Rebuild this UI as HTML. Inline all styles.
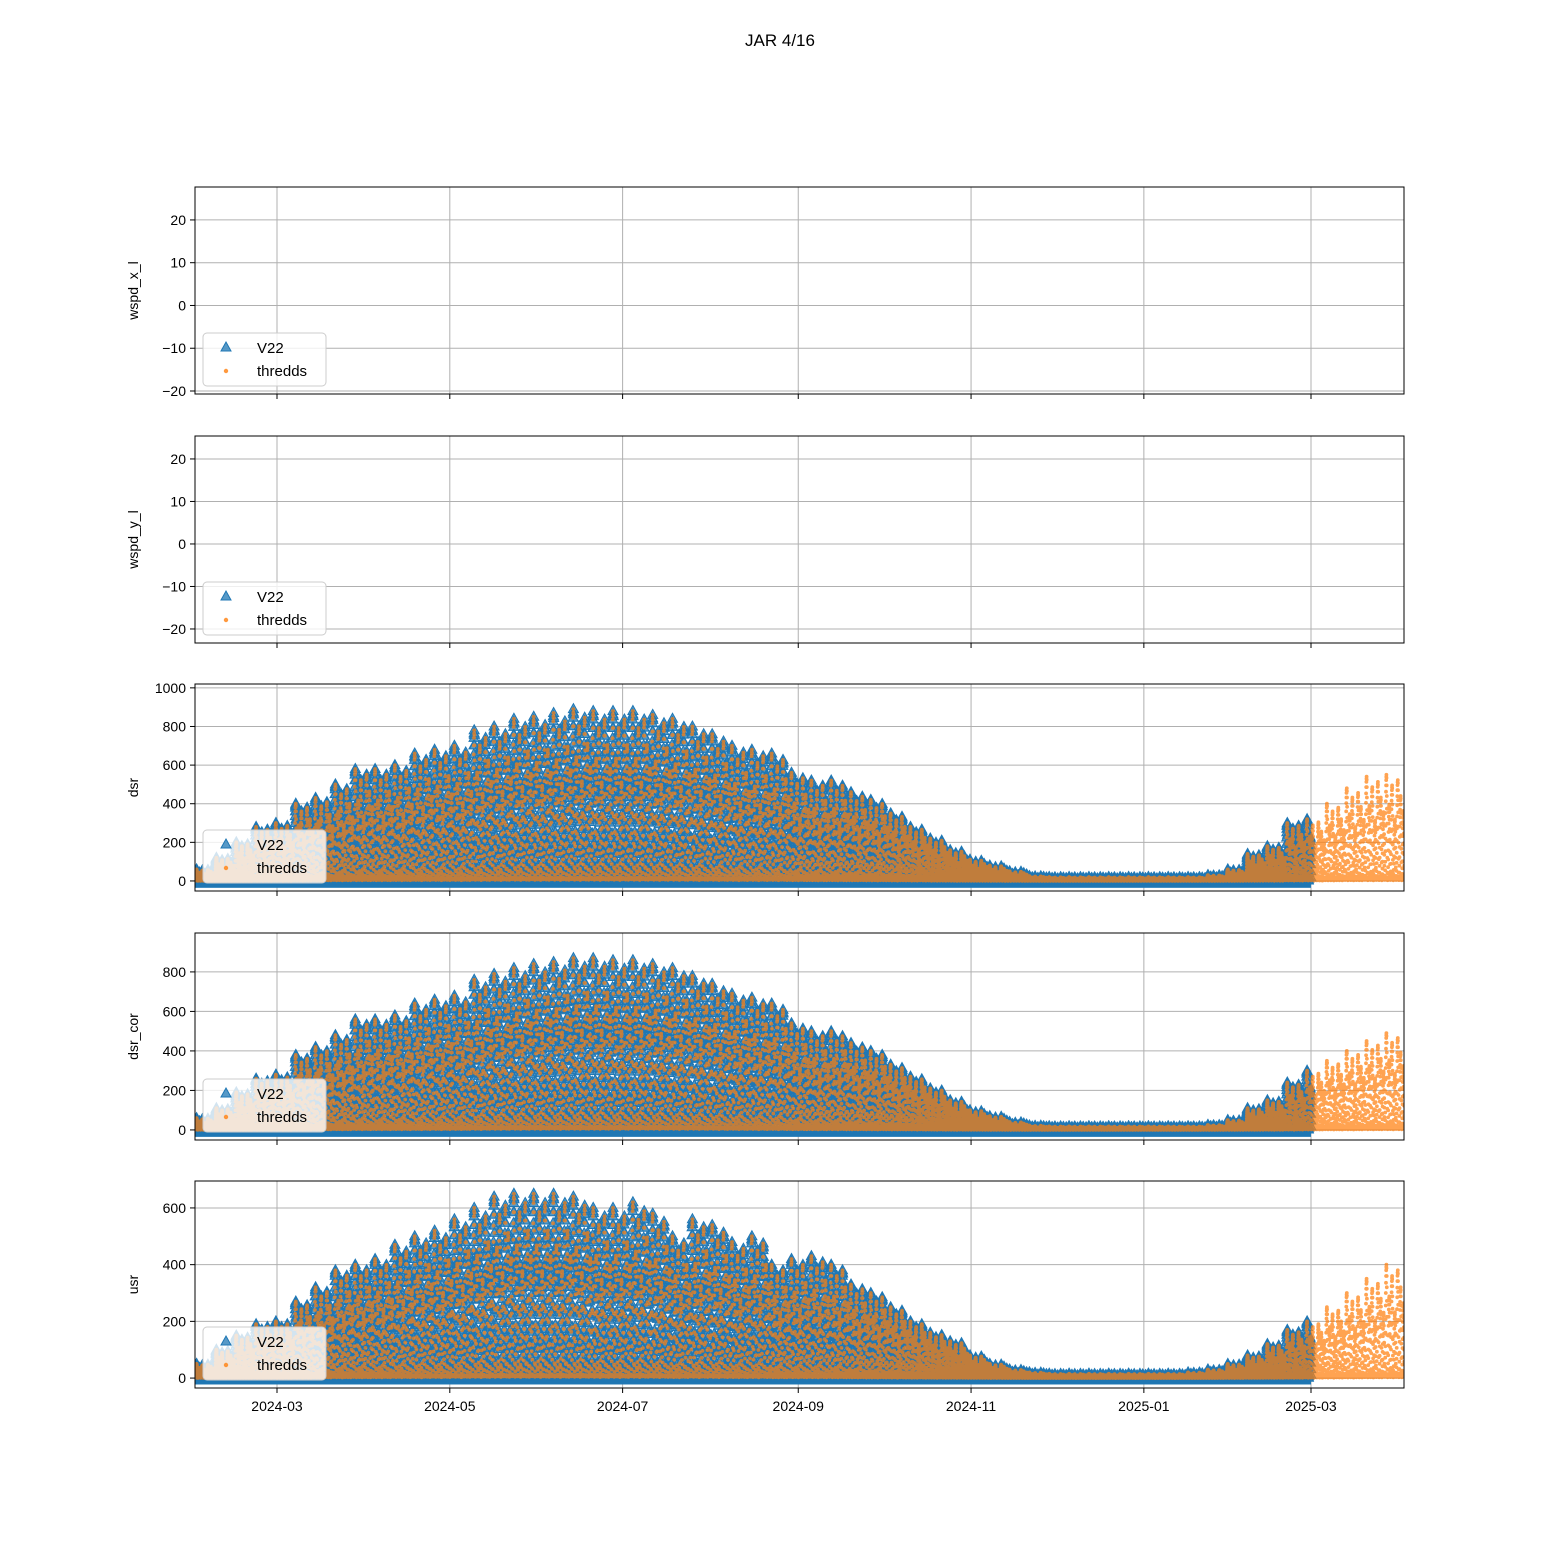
<!DOCTYPE html>
<html><head><meta charset="utf-8">
<style>
html,body{margin:0;padding:0;background:#fff;}
svg{display:block;font-family:"Liberation Sans","DejaVu Sans",sans-serif;}
</style></head>
<body>
<svg id="fig" width="1560" height="1560" viewBox="0 0 1560 1560">
<rect x="0" y="0" width="1560" height="1560" fill="#fff"/>
<text x="780" y="46" text-anchor="middle" font-size="17" fill="#000">JAR 4/16</text>
</svg>
<script>
// ---- data (weekly peak values starting 2024-02-01) ----
const monthLabels = ["2024-03","2024-05","2024-07","2024-09","2024-11","2025-01","2025-03"];
const monthDays = [29, 90, 151, 213, 274, 335, 394];
const dsrPeaks = [60,120,200,280, 300,400,430,500,580, 580,600,660,680, 700,780,800,840,850, 870,890,880,880, 880,860,840,800,760, 700,680,660,560, 520,520,460,420, 350,280,220,160, 110,80,50,25, 20,20,20,20,20, 20,20,20,30, 60,140,180,300, 320,400,480,540,550];
const dsrCorPeaks = [60,110,190,260, 280,380,420,480,560, 560,580,640,660, 680,760,790,820,840, 850,870,870,860, 860,840,820,780,740, 690,670,640,540, 500,500,440,400, 330,270,210,150, 100,70,40,22, 18,18,18,18,18, 18,18,18,25, 50,110,150,240, 300,350,400,450,490];
const usrPeaks = [50,100,150,190, 200,270,320,380,400, 420,470,500,520, 560,600,640,650,650, 650,640,600,600, 620,580,500,560,540, 480,500,400,420, 430,400,330,300, 250,200,160,130, 80,50,30,20, 15,15,15,15,15, 15,15,20,30, 50,80,120,170, 200,250,300,350,400];
const dayFactors = [1.0,0.72,0.9,0.58,0.95,0.8,0.66];
const hourFractions = [0.02,0.01,0.02,0.05,0.1,0.18,0.28,0.4,0.52,0.64,0.75,0.84,0.9,0.95,0.98,1.0,0.97,0.9,0.8,0.68,0.54,0.38,0.22,0.08];
const v22EndDay = 394;
const totalDays = 427;

const NS = "http://www.w3.org/2000/svg";
const svg = document.getElementById('fig');
const X0 = 195, X1 = 1404;
const PXD = (1311 - 277) / 365;
const xScale = d => 277 + (d - 29) * PXD;

const panels = [
  {name:'wspd_x_l', top:187, bot:394, ymin:-20.7, ymax:27.7, ticks:[-20,-10,0,10,20], peaks:null},
  {name:'wspd_y_l', top:436, bot:643, ymin:-23.3, ymax:25.4, ticks:[-20,-10,0,10,20], peaks:null},
  {name:'dsr', top:684, bot:891, ymin:-52, ymax:1020, ticks:[0,200,400,600,800,1000], peaks:dsrPeaks, base:-20},
  {name:'dsr_cor', top:933, bot:1140, ymin:-51, ymax:997, ticks:[0,200,400,600,800], peaks:dsrCorPeaks, base:-20},
  {name:'usr', top:1181, bot:1388, ymin:-35, ymax:695, ticks:[0,200,400,600], peaks:usrPeaks, base:-12}
];

function mk(tag, attrs, parent){ const e=document.createElementNS(NS,tag); for(const k in attrs) e.setAttribute(k,attrs[k]); (parent||svg).appendChild(e); return e; }

panels.forEach((p, pi) => {
  const yScale = v => p.bot - (v - p.ymin) / (p.ymax - p.ymin) * (p.bot - p.top);
  const g = mk('g', {});
  
  
  const defs = mk('clipPath', {id:'clip'+pi}, g);
  mk('rect', {x:X0, y:p.top, width:X1-X0, height:p.bot-p.top}, defs);
  monthDays.forEach(d => {
    const l = mk('line', {x1:xScale(d), x2:xScale(d), y1:p.top, y2:p.bot, stroke:'#b0b0b0', 'stroke-width':1}, g);
    
    
  });
  p.ticks.forEach(t => {
    const y = yScale(t);
    const l = mk('line', {x1:X0, x2:X1, y1:y, y2:y, stroke:'#b0b0b0', 'stroke-width':1}, g);
    
    
    mk('line', {x1:X0-5, x2:X0, y1:y, y2:y, stroke:'#000', 'stroke-width':1}, g);
    const tx = mk('text', {x:X0-9, y:y+5, 'text-anchor':'end', 'font-size':14, fill:'#000'}, g);
    tx.textContent = t < 0 ? '\u2212' + Math.abs(t) : String(t);
    
    
  });
  if (p.peaks) {
    const dg = mk('g', {'clip-path':'url(#clip'+pi+')'}, g);
    const band = mk('rect', {x:X0, y:yScale(p.base)-2, width:xScale(v22EndDay)-X0, height:5, fill:'#1f77b4'}, dg);
    
    
    let tri = '', dot = '';
    for (let d = 0; d < totalDays; d++) {
      const w = Math.min(Math.floor(d/7), p.peaks.length-1);
      const peak = p.peaks[w] * dayFactors[d % 7];
      for (let h = 0; h < 24; h++) {
        const v = peak * hourFractions[h];
        const x = xScale(d + h/24), y = yScale(v);
        if (d < v22EndDay) tri += `M${x.toFixed(1)} ${(y-5.5).toFixed(1)}l5 9h-10z`;
        dot += `M${(x-1.9).toFixed(1)} ${y.toFixed(1)}a1.9 1.9 0 1 0 3.8 0a1.9 1.9 0 1 0 -3.8 0z`;
      }
    }
    const tp = mk('path', {d:tri, fill:'#1f77b4', 'fill-opacity':0.75, stroke:'#1f77b4', 'stroke-width':1}, dg);
    
    
    const dp = mk('path', {d:dot, fill:'#ff7f0e', 'fill-opacity':0.72}, dg);
    
    
  }
  mk('rect', {x:X0, y:p.top, width:X1-X0, height:p.bot-p.top, fill:'none', stroke:'#000', 'stroke-width':1}, g);
  monthDays.forEach((d, i) => {
    mk('line', {x1:xScale(d), x2:xScale(d), y1:p.bot, y2:p.bot+5, stroke:'#000', 'stroke-width':1}, g);
    if (pi === panels.length-1) {
      const tx = mk('text', {x:xScale(d), y:p.bot+23, 'text-anchor':'middle', 'font-size':14, fill:'#000'}, g);
      tx.textContent = monthLabels[i];
      
      
    }
  });
  const cy = (p.top + p.bot)/2;
  const yl = mk('text', {x:138, y:cy, 'text-anchor':'middle', 'font-size':14, fill:'#000', transform:`rotate(-90 138 ${cy})`}, g);
  yl.textContent = p.name;
  
  
  const lg = mk('g', {}, g);
  
  
  const ly = p.bot - 61;
  mk('rect', {x:203, y:ly, width:123, height:53, rx:4, fill:'#fff', 'fill-opacity':0.8, stroke:'#cccccc', 'stroke-width':1}, lg);
  const e1 = mk('path', {d:`M226 ${ly+9}l5 9h-10z`, fill:'#1f77b4', 'fill-opacity':0.75, stroke:'#1f77b4'}, lg);
  
  
  const t1 = mk('text', {x:257, y:ly+20, 'font-size':15, fill:'#000'}, lg);
  t1.textContent = 'V22';
  
  
  const e2 = mk('circle', {cx:226, cy:ly+38, r:2.2, fill:'#ff7f0e', 'fill-opacity':0.8}, lg);
  
  
  const t2 = mk('text', {x:257, y:ly+43, 'font-size':15, fill:'#000'}, lg);
  t2.textContent = 'thredds';
  
  
});
</script>
</body></html>
